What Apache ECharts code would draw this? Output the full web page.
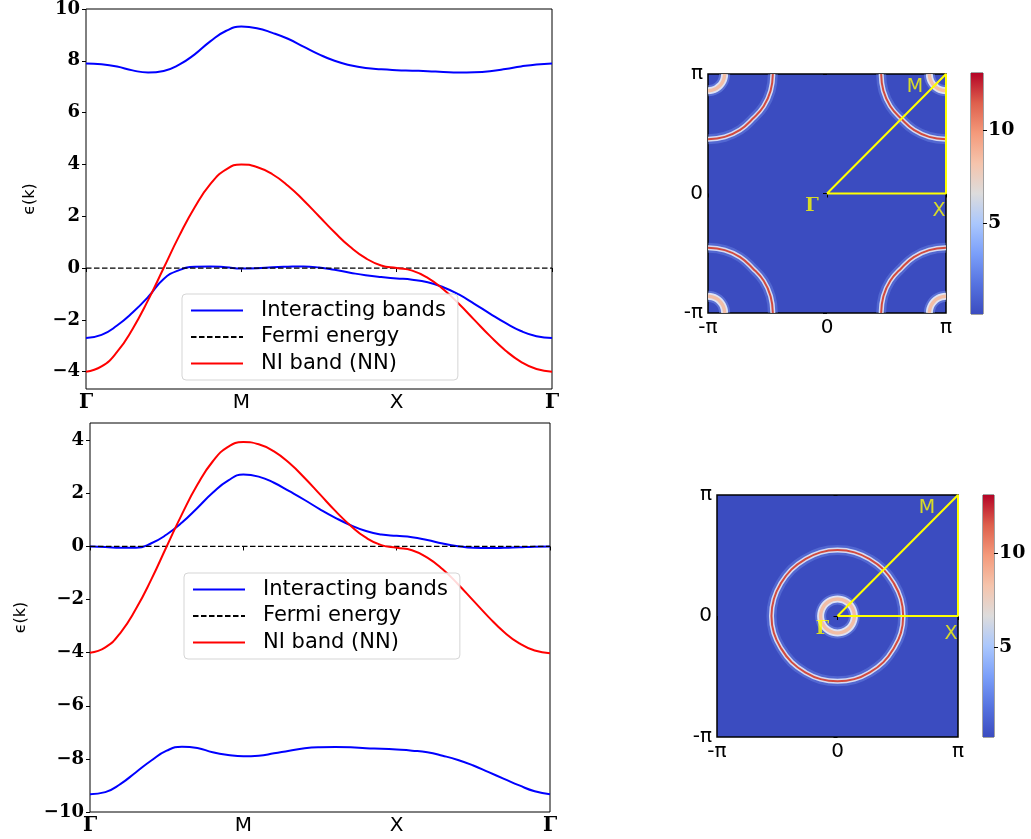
<!DOCTYPE html>
<html><head><meta charset="utf-8">
<script src="https://cdn.jsdelivr.net/npm/echarts@6/dist/echarts.min.js"></script>
<style>html,body{margin:0;padding:0;background:#fff}#c{width:1031px;height:839px}</style>
</head><body><div id="c"></div>
<script>
// ---------- data ----------
const pathLabels = ['Γ', 'M', 'X', 'Γ'];
const topYTicks = [-4, -2, 0, 2, 4, 6, 8, 10];
const botYTicks = [-10, -8, -6, -4, -2, 0, 2, 4];
const kLabels = ['-π', '0', 'π'];
const cbTicks = [5, 10];
const cbRangeTop = [0.1, 13.06];
const cbRangeBot = [0.2, 13.1];
// path coordinate step between samples (Γ=0, M=1, X=2, Γ=3)
const pathStep = 0.1;

// top panel bands
const topUpperBand = [7.90,7.87,7.78,7.63,7.55,7.61,7.85,8.25,8.75,9.15,9.32,9.26,9.08,8.85,8.55,8.25,8.00,7.83,7.72,7.67,7.64,7.62,7.60,7.57,7.55,7.56,7.60,7.68,7.78,7.86,7.90];
const topLowerBand = [-2.70,-2.58,-2.22,-1.72,-1.12,-0.42,-0.08,0.05,0.06,0.03,-0.02,-0.01,0.03,0.05,0.06,0.02,-0.07,-0.18,-0.28,-0.35,-0.40,-0.45,-0.55,-0.74,-1.02,-1.38,-1.76,-2.12,-2.43,-2.63,-2.70];
const topNIBand = [-4.0,-3.80,-3.24,-2.35,-1.24,0.0,1.24,2.35,3.24,3.80,4.0,3.90,3.62,3.18,2.62,2.0,1.38,0.82,0.38,0.10,0.0,-0.10,-0.38,-0.82,-1.38,-2.0,-2.62,-3.18,-3.62,-3.90,-4.0];
// bottom panel bands
const botUpperBand = [0.0,-0.02,-0.05,-0.05,0.12,0.45,0.90,1.45,2.02,2.48,2.71,2.63,2.40,2.08,1.75,1.40,1.08,0.80,0.58,0.45,0.40,0.35,0.24,0.11,0.01,-0.05,-0.06,-0.05,-0.03,-0.01,0.0];
const botLowerBand = [-9.33,-9.25,-8.94,-8.50,-8.06,-7.69,-7.54,-7.59,-7.75,-7.85,-7.90,-7.88,-7.79,-7.69,-7.60,-7.56,-7.55,-7.56,-7.60,-7.62,-7.65,-7.69,-7.75,-7.88,-8.04,-8.25,-8.50,-8.75,-9.00,-9.22,-9.33];
const botNIBand = [-4.0,-3.80,-3.24,-2.35,-1.24,0.0,1.22,2.32,3.20,3.75,3.93,3.85,3.58,3.14,2.58,1.96,1.34,0.78,0.33,0.05,-0.05,-0.14,-0.42,-0.86,-1.42,-2.04,-2.66,-3.22,-3.65,-3.92,-4.02];
const fermiLevel = [[0, 0], [3, 0]];

// Fermi-surface contours (k in units of π)
const arcTR = [[0.455,1],[0.474,0.859],[0.532,0.73],[0.625,0.625],[0.73,0.532],[0.859,0.474],[1,0.455]];
const arcTL = [[-0.455,1],[-0.474,0.859],[-0.532,0.73],[-0.625,0.625],[-0.73,0.532],[-0.859,0.474],[-1,0.455]];
const arcBL = [[-0.455,-1],[-0.474,-0.859],[-0.532,-0.73],[-0.625,-0.625],[-0.73,-0.532],[-0.859,-0.474],[-1,-0.455]];
const arcBR = [[0.455,-1],[0.474,-0.859],[0.532,-0.73],[0.625,-0.625],[0.73,-0.532],[0.859,-0.474],[1,-0.455]];
const cornTR = [[0.86,1],[0.865,0.964],[0.879,0.93],[0.901,0.901],[0.93,0.879],[0.964,0.865],[1,0.86]];
const cornTL = [[-0.86,1],[-0.865,0.964],[-0.879,0.93],[-0.901,0.901],[-0.93,0.879],[-0.964,0.865],[-1,0.86]];
const cornBL = [[-0.86,-1],[-0.865,-0.964],[-0.879,-0.93],[-0.901,-0.901],[-0.93,-0.879],[-0.964,-0.865],[-1,-0.86]];
const cornBR = [[0.86,-1],[0.865,-0.964],[0.879,-0.93],[0.901,-0.901],[0.93,-0.879],[0.964,-0.865],[1,-0.86]];
const ringBig = [[0.545,0],[0.526,0.141],[0.468,0.27],[0.383,0.383],[0.27,0.468],[0.141,0.526],[0,0.545],
  [-0.141,0.526],[-0.27,0.468],[-0.383,0.383],[-0.47,0.27],[-0.528,0.141],[-0.548,0],
  [-0.528,-0.141],[-0.468,-0.268],[-0.381,-0.381],[-0.268,-0.465],[-0.14,-0.522],[0,-0.54],
  [0.14,-0.522],[0.268,-0.465],[0.381,-0.381],[0.466,-0.268],[0.526,-0.141]];
const ringSmall = [[0.14,0],[0.135,0.036],[0.121,0.07],[0.099,0.099],[0.07,0.121],[0.036,0.135],[0,0.14],
  [-0.036,0.135],[-0.07,0.121],[-0.099,0.099],[-0.121,0.07],[-0.135,0.036],[-0.14,0],
  [-0.135,-0.036],[-0.121,-0.07],[-0.099,-0.099],[-0.07,-0.121],[-0.036,-0.135],[0,-0.14],
  [0.036,-0.135],[0.07,-0.121],[0.099,-0.099],[0.121,-0.07],[0.135,-0.036]];
// high-symmetry path Γ→M→X→Γ and its labels
const bzPath = [[0,0],[1,1],[1,0],[0,0]];
const bzPoints = [[0,0],[1,1],[1,0]];
const bzNames = ['Γ','M','X'];

// ---------- build ----------
const chart = echarts.init(document.getElementById('c'), null, {renderer: 'canvas'});
const toXY = arr => arr.map((v, i) => [i * pathStep, v]);
const fmtNum = v => (v < 0 ? '\u2212' + (-v) : String(v));
const serifBold = {fontFamily: 'DejaVu Serif', fontWeight: 'bold', fontSize: 18, color: '#000'};
const coolwarm = [
  {offset: 0, color: '#3b4cc0'}, {offset: 0.125, color: '#5673e0'}, {offset: 0.25, color: '#7b9ff9'},
  {offset: 0.375, color: '#aac7fd'}, {offset: 0.5, color: '#dddcdc'}, {offset: 0.625, color: '#f5c4ac'},
  {offset: 0.75, color: '#f49a7b'}, {offset: 0.875, color: '#de604d'}, {offset: 1, color: '#b40426'}
];

function bandSeries(name, data, color, xi, extra) {
  return Object.assign({
    type: 'line', name: name, xAxisIndex: xi, yAxisIndex: xi, data: data,
    smooth: 0.5, symbol: 'none', showSymbol: false,
    lineStyle: {color: color, width: 2}, itemStyle: {color: color}, silent: true
  }, extra || {});
}
const bigLayers = [{w: 10, c: 'rgba(125,155,240,0.35)'}, {w: 5, c: 'rgba(232,236,247,0.88)'}, {w: 2, c: '#d24a3e'}];
const smallLayers = [{w: 11, c: 'rgba(140,168,245,0.4)'}, {w: 7, c: 'rgba(236,239,248,0.9)'}, {w: 3.5, c: '#f2bea6'}];
// contour drawn as a smooth path through the data points, positioned by the grid's own scales
function contourSeries(data, idx, layers, closed) {
  return {
    type: 'custom', xAxisIndex: idx, yAxisIndex: idx, data: data, silent: true, clip: true,
    encode: {x: 0, y: 1},
    renderItem: (params, api) => {
      if (params.dataIndex !== 0) return null;
      const pts = data.map(p => api.coord(p));
      return {
        type: 'group',
        children: layers.map(l => ({
          type: closed ? 'polygon' : 'polyline',
          shape: {points: pts, smooth: 0.45},
          style: {fill: null, stroke: l.c, lineWidth: l.w, lineCap: 'butt', lineJoin: 'round'}
        }))
      };
    }
  };
}
function bzSeries(idx) {
  const offs = {'Γ': [-15, 13], 'M': [-31, 13], 'X': [-7, 18]};
  return [{
    type: 'line', xAxisIndex: idx, yAxisIndex: idx, data: bzPath, symbol: 'none', silent: true, clip: false,
    lineStyle: {color: '#ffff00', width: 2}, z: 5
  }, {
    type: 'scatter', xAxisIndex: idx, yAxisIndex: idx, symbolSize: 0, silent: true, z: 6,
    data: bzPoints.map((p, i) => ({
      value: p,
      label: {
        show: true, position: 'inside', formatter: bzNames[i], offset: offs[bzNames[i]],
        color: '#ffff00', fontSize: 19,
        fontFamily: bzNames[i] === 'Γ' ? 'DejaVu Serif' : 'DejaVu Sans',
        fontWeight: bzNames[i] === 'Γ' ? 'bold' : 'normal'
      }
    }))
  }];
}
function pathXAxis(gi) {
  return {
    type: 'value', gridIndex: gi, min: 0, max: 3, interval: 1,
    axisLine: {show: false}, splitLine: {show: false},
    axisTick: {show: true, length: 4, lineStyle: {color: '#000'}},
    axisLabel: {
      margin: 4, formatter: v => {
        const s = pathLabels[Math.round(v)];
        return s === 'Γ' ? '{g|Γ}' : '{s|' + s + '}';
      },
      rich: {g: {fontFamily: 'DejaVu Serif', fontWeight: 'bold', fontSize: 20, color: '#000'},
             s: {fontFamily: 'DejaVu Sans', fontSize: 20, color: '#000'}}
    }
  };
}
function bandYAxis(gi, min, max, ticks, gap) {
  return {
    type: 'value', gridIndex: gi, min: min, max: max,
    name: 'ϵ(k)', nameLocation: 'middle', nameRotate: 90, nameGap: gap,
    nameTextStyle: {fontFamily: 'DejaVu Sans', fontSize: 16, color: '#000'},
    axisLine: {show: false}, splitLine: {show: false},
    axisTick: {show: true, length: 4, customValues: ticks, lineStyle: {color: '#000'}},
    axisLabel: Object.assign({customValues: ticks, formatter: fmtNum, margin: 6}, serifBold)
  };
}
function kAxis(gi) {
  return {
    type: 'value', gridIndex: gi, min: -1, max: 1, interval: 1,
    axisLine: {show: false}, splitLine: {show: false},
    axisTick: {show: true, length: 4, lineStyle: {color: '#000'}},
    axisLabel: {margin: 5, fontFamily: 'DejaVu Sans', fontSize: 20, color: '#000',
      formatter: v => kLabels[Math.round(v) + 1]}
  };
}
function cbYAxis(gi, range) {
  return {
    type: 'value', gridIndex: gi, position: 'right', min: range[0], max: range[1],
    axisLine: {show: false}, splitLine: {show: false},
    axisTick: {show: true, length: 4, customValues: cbTicks, lineStyle: {color: '#000'}},
    axisLabel: Object.assign({customValues: cbTicks, margin: 5}, serifBold, {fontSize: 19})
  };
}
function cbBar(idx, range) {
  return {
    type: 'bar', xAxisIndex: idx, yAxisIndex: idx, data: [range[1]], barWidth: '100%', silent: true,
    itemStyle: {color: new echarts.graphic.LinearGradient(0, 1, 0, 0, coolwarm)}
  };
}
const legendNames = ['Interacting bands', 'Fermi energy', 'NI band (NN)'];
function legendAt(left, top) {
  return {
    data: legendNames, orient: 'vertical', left: left, top: top, selectedMode: false,
    itemWidth: 52, itemHeight: 14, itemGap: 5.5, padding: [6, 12, 6, 8],
    itemStyle: {opacity: 0},
    backgroundColor: 'rgba(255,255,255,0.85)', borderColor: '#d5d5d5', borderWidth: 1, borderRadius: 4,
    textStyle: {fontFamily: 'DejaVu Sans', fontSize: 21, color: '#000', lineHeight: 21, padding: [0, 0, 0, 13]}
  };
}

const series = [
  bandSeries('Interacting bands', toXY(topUpperBand), '#0000ff', 0),
  bandSeries('Interacting bands', toXY(topLowerBand), '#0000ff', 0),
  bandSeries('Fermi energy', fermiLevel, '#000', 0, {smooth: false, lineStyle: {color: '#000', width: 1.2, type: [5.5, 2.5]}}),
  bandSeries('NI band (NN)', toXY(topNIBand), '#ff0000', 0),
  bandSeries('Interacting bands', toXY(botUpperBand), '#0000ff', 1),
  bandSeries('Interacting bands', toXY(botLowerBand), '#0000ff', 1),
  bandSeries('Fermi energy', fermiLevel, '#000', 1, {smooth: false, lineStyle: {color: '#000', width: 1.2, type: [5.5, 2.5]}}),
  bandSeries('NI band (NN)', toXY(botNIBand), '#ff0000', 1)
];
[arcTR, arcTL, arcBL, arcBR].forEach(a => series.push(contourSeries(a, 2, bigLayers, false)));
[cornTR, cornTL, cornBL, cornBR].forEach(a => series.push(contourSeries(a, 2, smallLayers, false)));
series.push(contourSeries(ringBig, 3, bigLayers, true));
series.push(contourSeries(ringSmall, 3, smallLayers, true));
series.push(...bzSeries(2), ...bzSeries(3));
series.push(cbBar(4, cbRangeTop), cbBar(5, cbRangeBot));

const option = {
  animation: false,
  backgroundColor: '#ffffff',
  textStyle: {fontFamily: 'DejaVu Sans'},
  grid: [
    {left: 86, top: 7, width: 466, height: 382, show: true, borderColor: '#000', borderWidth: 1},
    {left: 90, top: 423, width: 460, height: 389, show: true, borderColor: '#000', borderWidth: 1},
    {left: 708, top: 74, width: 238, height: 239, show: true, backgroundColor: '#3b4cc0', borderColor: '#000', borderWidth: 1.5},
    {left: 717, top: 495, width: 241, height: 242, show: true, backgroundColor: '#3b4cc0', borderColor: '#000', borderWidth: 1.5},
    {left: 971, top: 73, width: 12, height: 241, show: true, borderColor: '#444', borderWidth: 1},
    {left: 983, top: 495, width: 11, height: 242, show: true, borderColor: '#444', borderWidth: 1}
  ],
  xAxis: [
    pathXAxis(0), pathXAxis(1), kAxis(2), kAxis(3),
    {type: 'category', gridIndex: 4, data: ['c'], show: false},
    {type: 'category', gridIndex: 5, data: ['c'], show: false}
  ],
  yAxis: [
    bandYAxis(0, -4.67, 10, topYTicks, 48),
    bandYAxis(1, -10, 4.65, botYTicks, 61),
    kAxis(2), kAxis(3),
    cbYAxis(4, cbRangeTop), cbYAxis(5, cbRangeBot)
  ],
  legend: [legendAt(182, 294), legendAt(184, 573)],
  series: series
};
chart.setOption(option);
</script>
</body></html>
